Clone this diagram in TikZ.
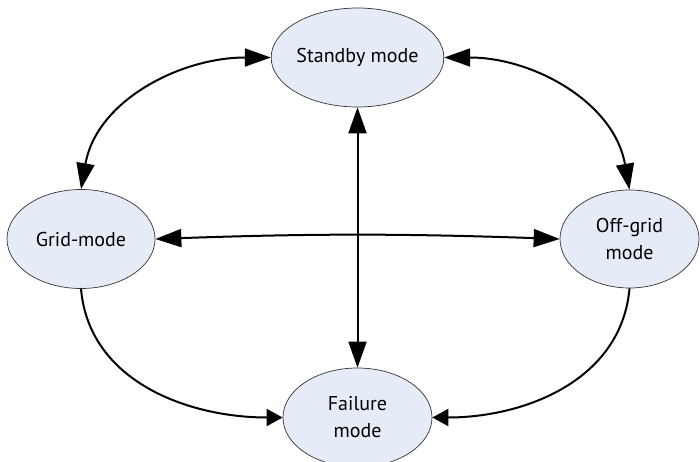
\documentclass[tikz,border=0pt]{standalone}
\usepackage{fontspec}
\setmainfont{PT Sans}
\usetikzlibrary{arrows.meta,shapes.geometric}
\definecolor{modefill}{RGB}{230,236,247}
\tikzset{
  mode/.style={ellipse,draw=black!80,line width=0.7pt,fill=modefill,inner sep=0pt,
    minimum width=149pt,minimum height=99pt,align=center,font=\fontsize{20}{27}\selectfont},
  link/.style={line width=2pt,{Triangle[length=26pt,width=18pt]}-{Triangle[length=26pt,width=18pt]}},
  oneway/.style={line width=2pt,-{Triangle[length=16pt,width=17pt]}}
}
\begin{document}
\begin{tikzpicture}[x=1pt,y=-1pt]
      \useasboundingbox (0,0) rectangle (700,462);
      \draw
        (357.5,57.5) node[mode] (standby){Standby mode}
        (81,239) node[mode,minimum width=148pt] (grid){Grid-mode}
        (629.5,239) node[mode,minimum width=139pt,minimum height=98pt] (offgrid){Off-grid\\mode}
        (357.5,417.5) node[mode] (failure){Failure\\mode};
      \begin{scope}[link]
        \draw (standby.west) to[out=180,in=80] (grid.north);
        \draw (standby.east) to[out=0,in=100] (offgrid.north);
        \draw (standby.south) to (failure.north);
        \draw (grid.east) to[bend left=2] (offgrid.west);
      \end{scope}
      \begin{scope}[oneway]
        \draw (grid.south) to[out=-85,in=180] (failure.west);
        \draw (offgrid.south) to[out=-95,in=0] (failure.east);
      \end{scope}
    \end{tikzpicture}
\end{document}
